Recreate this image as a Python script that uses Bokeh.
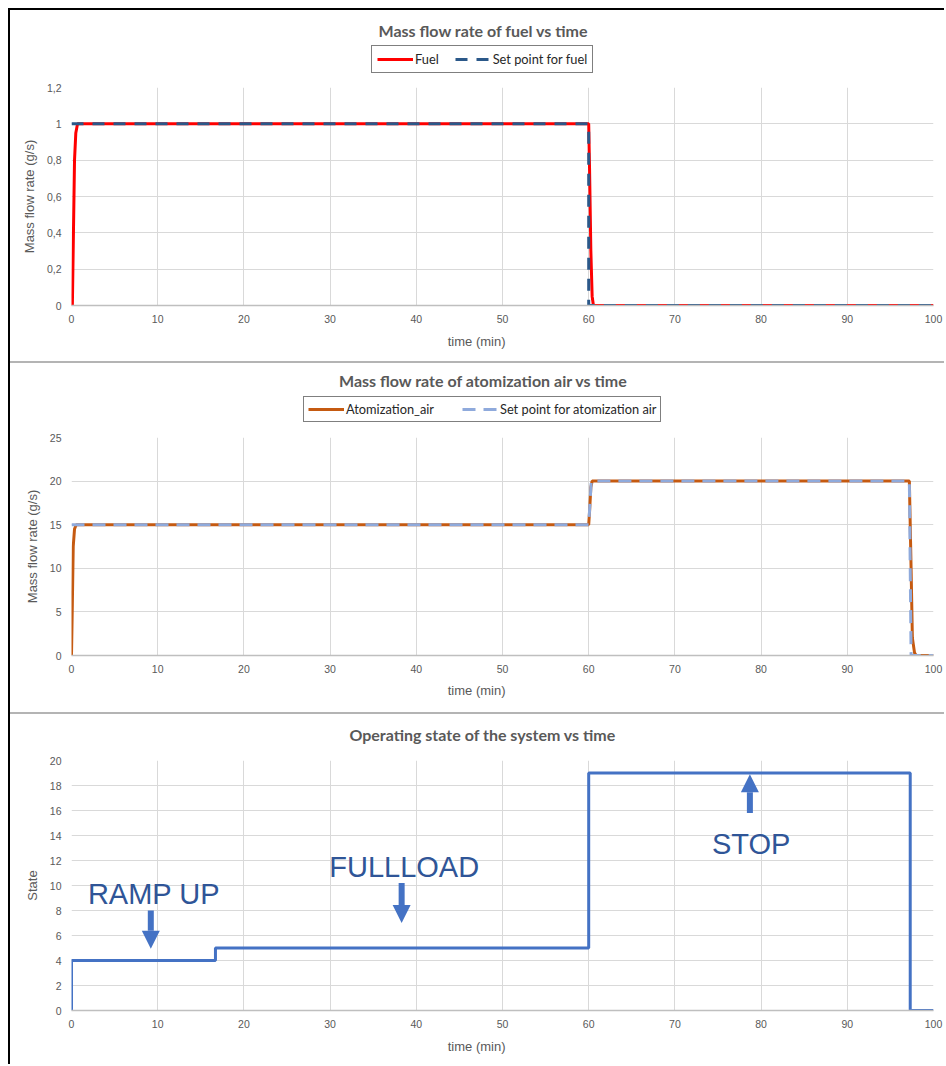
from bokeh.plotting import figure
from bokeh.layouts import column, row
from bokeh.models import (Range1d, FixedTicker, CustomJSTickFormatter, Legend,
                          LegendItem, Label, Arrow, NormalHead, Div)
from bokeh.embed import file_html
from bokeh.resources import INLINE

# ---------------- data ----------------
x_ticks = [0, 10, 20, 30, 40, 50, 60, 70, 80, 90, 100]

fuel_t = [0, 0.1, 0.35, 0.5, 0.7, 60.0, 60.1, 60.25, 60.4, 60.55, 100]
fuel_v = [0, 0, 0.8, 0.95, 1.0, 1.0, 0.75, 0.3, 0.05, 0, 0]
sp_fuel_t = [0, 60, 60, 100]
sp_fuel_v = [1, 1, 0, 0]
fuel_yticks = [0, 0.2, 0.4, 0.6, 0.8, 1.0, 1.2]

air_t = [0, 0.1, 0.2, 0.35, 0.55, 60.0, 60.1, 60.25, 60.4, 97.2, 97.4, 97.55, 97.8, 98.0, 100]
air_v = [0, 6, 12.5, 14.5, 15, 15, 16.5, 19.3, 20, 20, 10, 2, 0.3, 0, 0]
sp_air_t = [0, 60, 60.3, 97.2, 97.4, 100]
sp_air_v = [15, 15, 20, 20, 0, 0]
air_yticks = [0, 5, 10, 15, 20, 25]

state_t = [0, 0, 16.7, 16.7, 60, 60, 97.3, 97.3, 100]
state_v = [0, 4, 4, 5, 5, 19, 19, 0, 0]
state_yticks = [0, 2, 4, 6, 8, 10, 12, 14, 16, 18, 20]

titles = ["Mass flow rate of fuel vs time",
          "Mass flow rate of atomization air vs time",
          "Operating state of the system vs time"]
legend1_labels = ["Fuel", "Set point for fuel"]
legend2_labels = ["Atomization_air", "Set point for atomization air"]
x_label = "time (min)"
y_labels = ["Mass flow rate (g/s)", "Mass flow rate (g/s)", "State"]

state_notes = ["RAMP UP", "FULLLOAD", "STOP"]
note_x = [1.9, 29.9, 74.3]
note_y = [9.36, 11.5, 13.36]
arrow_x = [9.2, 38.3, 78.7]
arrow_y0 = [8.0, 10.2, 15.8]
arrow_y1 = [4.95, 7.0, 18.9]

GRAY = "#595959"
TICKF = "Liberation Sans"
W = 934
BL, BR = 61, 11

C_FUEL, C_SPF = "#FF0000", "#2B5889"
C_AIR, C_SPA = "#C55A11", "#8FAADC"
C_STATE = "#4472C4"
NAN = [float("nan")]


def blank_fig(height):
    p = figure(width=W, height=height, x_range=Range1d(0, 100),
               y_range=Range1d(0, height), x_axis_type=None, y_axis_type=None,
               output_backend="svg", toolbar_location=None,
               min_border_left=BL, min_border_right=BR,
               min_border_top=0, min_border_bottom=0)
    p.outline_line_color = None
    p.grid.visible = False
    return p


def header(height, text, tx, ty):
    p = blank_fig(height)
    p.add_layout(Label(x=tx, y=ty, text=text, text_align="center",
                       text_baseline="middle", text_font="Lato",
                       text_font_size="16px", text_font_style="bold",
                       text_color=GRAY))
    return p


def footer(height, ty):
    p = blank_fig(height)
    p.add_layout(Label(x=47.0, y=ty, text=x_label, text_align="center",
                       text_baseline="middle", text_font=TICKF,
                       text_font_size="13px", text_color=GRAY))
    return p


def base_fig(height, y_end, yticks, ylabel, bt, bb):
    p = figure(width=W, height=height, x_range=Range1d(0, 100),
               y_range=Range1d(0, y_end), output_backend="svg",
               toolbar_location=None, min_border_top=bt, min_border_bottom=bb,
               min_border_left=BL, min_border_right=BR)
    p.outline_line_color = None
    p.xaxis.ticker = FixedTicker(ticks=x_ticks)
    p.yaxis.ticker = FixedTicker(ticks=yticks)
    for ax in (p.xaxis[0], p.yaxis[0]):
        ax.major_tick_line_color = None
        ax.minor_tick_line_color = None
        ax.major_tick_out = 0
        ax.major_tick_in = 0
        ax.major_label_text_font = TICKF
        ax.major_label_text_font_size = "10.5px"
        ax.major_label_text_color = GRAY
        ax.axis_label_text_font = TICKF
        ax.axis_label_text_font_size = "13px"
        ax.axis_label_text_font_style = "normal"
        ax.axis_label_text_color = GRAY
    p.xaxis.axis_line_color = "#BFBFBF"
    p.xaxis.axis_line_width = 1.5
    p.yaxis.axis_line_color = None
    p.yaxis.axis_label = ylabel
    p.xaxis.major_label_standoff = 9
    p.yaxis.major_label_standoff = 10
    p.yaxis.axis_label_standoff = 7
    p.xgrid.grid_line_color = "#D9D9D9"
    p.ygrid.grid_line_color = "#D9D9D9"
    p.xgrid.ticker = FixedTicker(ticks=x_ticks)
    p.ygrid.ticker = FixedTicker(ticks=yticks)
    return p


def make_legend(labels, renderers, loc, padding, gw, standoff, spacing):
    return Legend(items=[LegendItem(label=l, renderers=[r]) for l, r in zip(labels, renderers)],
                  orientation="horizontal", location=loc, padding=padding,
                  glyph_width=gw, glyph_height=12, label_height=12,
                  label_standoff=standoff, spacing=spacing,
                  label_text_font="Lato", label_text_font_size="12.8px",
                  label_text_color="#262626", border_line_color="black",
                  border_line_width=1.2, background_fill_color="white",
                  background_fill_alpha=1, margin=0)


# ---------------- panel 1 ----------------
h1 = header(70, titles[0], 47.8, 50)
lg1 = [h1.line(NAN, NAN, line_color=C_FUEL, line_width=3),
       h1.line(NAN, NAN, line_color=C_SPF, line_width=3, line_dash="12 9")]
h1.add_layout(make_legend(legend1_labels, lg1, (300, 7), 5, 36, 2, 16))

p1 = base_fig(252, 1.2, fuel_yticks, y_labels[0], 7, 27)
p1.yaxis.formatter = CustomJSTickFormatter(
    code="return (Math.round(tick*10)/10).toString().replace('.', ',');")
p1.line(fuel_t, fuel_v, line_color=C_FUEL, line_width=3)
p1.line(sp_fuel_t, sp_fuel_v, line_color=C_SPF, line_width=3, line_dash="12 9")
f1 = footer(29, 20)

# ---------------- panel 2 ----------------
h2 = header(67, titles[1], 47.8, 50)
lg2 = [h2.line(NAN, NAN, line_color=C_AIR, line_width=3),
       h2.line(NAN, NAN, line_color=C_SPA, line_width=3, line_dash="13 8")]
h2.add_layout(make_legend(legend2_labels, lg2, (232, 8), 4, 36, 2, 28))

p2 = base_fig(253, 25, air_yticks, y_labels[1], 7, 28)
p2.line(air_t, air_v, line_color=C_AIR, line_width=3)
p2.line(sp_air_t, sp_air_v, line_color=C_SPA, line_width=3, line_dash="13 8")
f2 = footer(29, 22)

# ---------------- panel 3 ----------------
h3 = header(39, titles[2], 47.7, 19)
p3 = base_fig(283, 20, state_yticks, y_labels[2], 7, 26)
p3.line(state_t, state_v, line_color=C_STATE, line_width=3)
for i in range(3):
    p3.add_layout(Label(x=note_x[i], y=note_y[i], text=state_notes[i],
                        text_align="left", text_baseline="alphabetic",
                        text_font="Liberation Sans", text_font_size="29px",
                        text_color="#2F5597"))
    p3.add_layout(Arrow(end=NormalHead(size=18, fill_color=C_STATE,
                                       line_color=C_STATE, line_width=0),
                        x_start=arrow_x[i], y_start=arrow_y0[i],
                        x_end=arrow_x[i], y_end=arrow_y1[i],
                        line_color=C_STATE, line_width=6))
f3 = footer(28, 18)


def bar(w, h, color):
    return Div(text="", width=w, height=h, margin=0,
               styles={"background-color": color})


inner = column(bar(W, 2, "black"), h1, p1, f1, bar(W, 2, "#B4B4B4"),
               h2, p2, f2, bar(W, 2, "#B4B4B4"), h3, p3, f3, spacing=0)
layout = column(bar(944, 8, "white"),
                row(bar(8, 1056, "white"), bar(2, 1056, "black"), inner, spacing=0),
                spacing=0)

open("out.html", "w").write(file_html(layout, INLINE))
